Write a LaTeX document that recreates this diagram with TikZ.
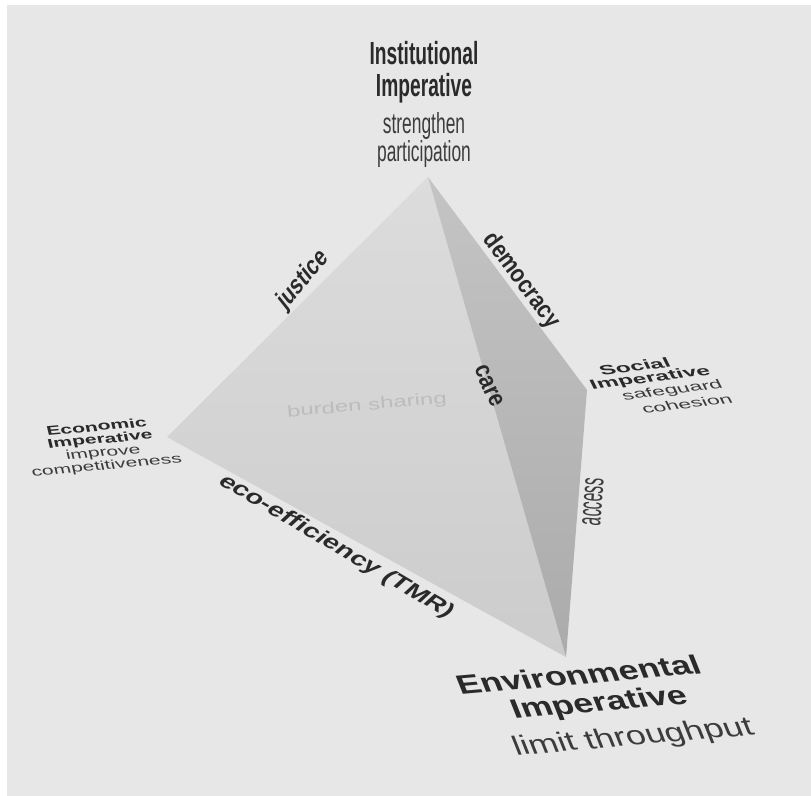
\documentclass[tikz,border=0pt]{standalone}
\usepackage{fontspec}
\setmainfont{Liberation Sans}
\newfontfamily\narrowfont[FakeStretch=0.6]{Liberation Sans}
\newfontfamily\thinfont[FakeStretch=0.45]{Liberation Sans}
\newfontfamily\edgefont[FakeStretch=0.85]{Liberation Sans}
\newfontfamily\widefont[FakeStretch=1.5]{Liberation Sans}
\newfontfamily\floorfont[FakeStretch=1.3]{Liberation Sans}
\usepackage{xcolor}

\definecolor{paper}{HTML}{E7E7E7}
\definecolor{facetop}{HTML}{DCDCDC}
\definecolor{facebottom}{HTML}{CCCCCC}
\definecolor{sidetop}{HTML}{C4C4C4}
\definecolor{sidebottom}{HTML}{ABABAB}
\definecolor{ink}{HTML}{2A2A2A}
\definecolor{softink}{HTML}{3C3C3C}
\definecolor{faintink}{HTML}{BCBCBC}

\tikzset{
	cornerword/.style={text=ink, inner sep=0pt, anchor=base},
	instbig/.style={cornerword, font=\narrowfont\bfseries\fontsize{32}{32}\selectfont},
	instsmall/.style={cornerword, text=softink, font=\narrowfont\fontsize{29}{29}\selectfont},
	econbig/.style={cornerword, rotate=5, xslant=-0.15, yscale=0.92, font=\widefont\bfseries\fontsize{14}{14}\selectfont},
	econsmall/.style={econbig, text=softink, font=\widefont\fontsize{14}{14}\selectfont},
	socbig/.style={cornerword, rotate=7, xslant=-0.35, yscale=0.85, font=\widefont\bfseries\fontsize{16}{16}\selectfont},
	socsmall/.style={socbig, text=softink, font=\widefont\fontsize{15}{15}\selectfont},
	envbig/.style={cornerword, rotate=5, xslant=-0.3, font=\floorfont\bfseries\fontsize{27}{27}\selectfont},
	envsmall/.style={envbig, text=softink, font=\floorfont\fontsize{27}{27}\selectfont},
	edgeword/.style={text=ink, inner sep=0pt, font=\edgefont\bfseries\fontsize{25}{25}\selectfont},
	floorword/.style={text=ink, inner sep=0pt, font=\floorfont\bfseries\fontsize{21}{21}\selectfont}
}

\begin{document}
\begin{tikzpicture}[x=1pt, y=-1pt]

		% page
		\useasboundingbox (0,0) rectangle (811,795);
		\fill[white] (-5,-5) rectangle (820,805);
		\fill[paper] (7,5) rectangle (820,805);
		
		% corners of the pyramid
		\coordinate (top) at (428,177);
		\coordinate (econ) at (167,437);
		\coordinate (soc) at (587,390);
		\coordinate (env) at (566,657);
		
		% the two faces
		\shade[top color=facetop, bottom color=facebottom] (top) -- (econ) -- (env) -- cycle;
		\shade[top color=sidetop, bottom color=sidebottom] (top) -- (env) -- (soc) -- cycle;
		
		\node[instbig] (institutional) at (424,64) {Institutional};
		\node[instbig] (institutionalimp) at (424,96) {Imperative};
		\node[instsmall] (strengthen) at (424,133) {strengthen};
		\node[instsmall] (participation) at (424,161) {participation};
		
		\node[econbig] (economic) at (97.5,431) {Economic};
		\node[econbig] (economicimp) at (101,443.5) {Imperative};
		\node[econsmall] (improve) at (104,456.5) {improve};
		\node[econsmall] (competitiveness) at (107.5,469.5) {competitiveness};
		
		\node[socbig] (social) at (637,371) {Social};
		\node[socbig] (socialimp) at (652,382) {Imperative};
		\node[socsmall] (safeguard) at (674,394) {safeguard};
		\node[socsmall] (cohesion) at (689,408) {cohesion};
		
		\node[envbig] (environmental) at (582,684) {Environmental};
		\node[envbig] (environmentalimp) at (602,711) {Imperative};
		\node[envsmall] (throughput) at (636,745) {limit throughput};
		
		% words on the edges
		\node[edgeword, rotate=50, xslant=0.2] (justice) at (303,280) {justice};
		\node[edgeword, rotate=-53.5] (democracy) at (521,281) {democracy};
		\node[edgeword, rotate=-66] (care) at (489,386) {care};
		\node[text=softink, inner sep=0pt, rotate=85.5, font=\thinfont\fontsize{34}{34}\selectfont] (access) at (593,502) {access};
		\node[floorword, rotate=-30.5, xslant=0.3] (ecoefficiency) at (336,547) {eco-efficiency (TMR)};
		\node[text=faintink, inner sep=0pt, rotate=5, font=\widefont\fontsize{16}{16}\selectfont] (burden) at (367,406) {burden sharing};
		
\end{tikzpicture}
\end{document}
